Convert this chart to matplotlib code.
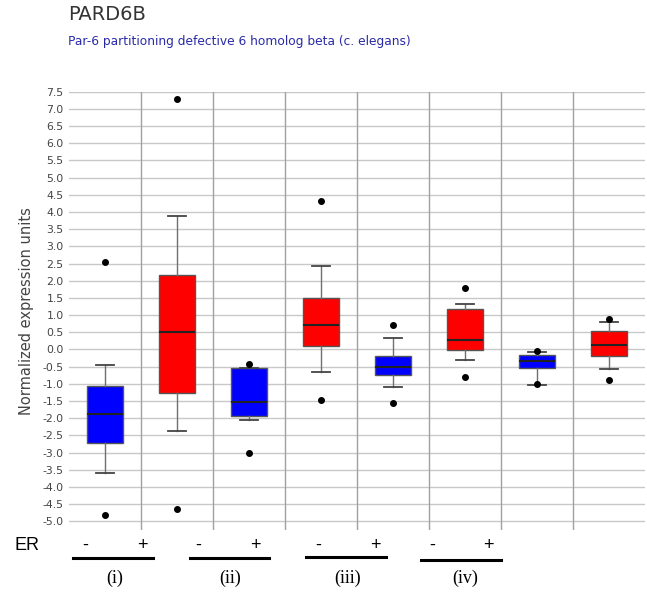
import matplotlib
matplotlib.use("Agg")
import matplotlib.pyplot as plt

# box statistics (ER-, ER+ for each of the four groups)
labels = ["-", "+", "-", "+", "-", "+", "-", "+"]
group_names = ["(i)", "(ii)", "(iii)", "(iv)"]
whisker_lo = [-3.6, -2.38, -2.05, -0.66, -1.10, -0.31, -1.02, -0.58]
q1 = [-2.73, -1.28, -1.94, 0.10, -0.75, -0.02, -0.54, -0.19]
medians = [-1.87, 0.50, -1.54, 0.70, -0.52, 0.29, -0.35, 0.13]
q3 = [-1.07, 2.18, -0.55, 1.51, -0.19, 1.19, -0.17, 0.53]
whisker_hi = [-0.44, 3.88, -0.55, 2.44, 0.32, 1.31, -0.08, 0.81]
outliers = [[2.56, -4.83], [7.30, -4.65], [-0.41, -3.02], [4.33, -1.48],
            [0.71, -1.57], [1.80, -0.81], [-0.05, -1.00], [0.90, -0.90]]
colors = ["#0000ff", "#ff0000"] * 4

stats = []
for i in range(len(labels)):
    stats.append({"whislo": whisker_lo[i], "q1": q1[i], "med": medians[i],
                  "q3": q3[i], "whishi": whisker_hi[i], "fliers": outliers[i]})

fig = plt.figure(figsize=(6.47, 5.96), dpi=100)
ax = fig.add_axes([0.107, 0.111, 0.89, 0.735])

# grid
yt = [x / 2 for x in range(-10, 16)]
for y in yt:
    ax.axhline(y, color="#c8c8c8", lw=1.0, zorder=0)
for x in range(1, 8):
    ax.axvline(x + 0.5, color="#a0a0a0", lw=1.0, zorder=0)

bp = ax.bxp(stats, positions=range(1, 9), widths=0.5, patch_artist=True,
            boxprops=dict(edgecolor="#555555", lw=1.0),
            whiskerprops=dict(color="#707070", lw=1.0),
            capprops=dict(color="#444444", lw=1.3),
            medianprops=dict(color="#222222", lw=1.5),
            flierprops=dict(marker="o", markerfacecolor="black",
                            markeredgecolor="black", markersize=4))
for patch, c in zip(bp["boxes"], colors):
    patch.set_facecolor(c)

ax.set_xlim(0.5, 8.5)
ax.set_ylim(-5.25, 7.5)
ax.set_yticks(yt)
ax.set_yticklabels([f"{y:.1f}" for y in yt], fontsize=7.8, color="#444444")
ax.tick_params(axis="y", length=0, pad=4)
ax.set_xticks([])
for s in ["top", "bottom", "right", "left"]:
    ax.spines[s].set_visible(False)
ax.set_ylabel("Normalized expression units", fontsize=10.5, color="#444444", labelpad=6)

fig.text(0.105, 1 - 15 / 596, "PARD6B", fontsize=14, color="#333333", va="center")
fig.text(0.105, 1 - 41 / 596, "Par-6 partitioning defective 6 homolog beta (c. elegans)",
         fontsize=8.8, color="#2a2aa8", va="center")

# ER annotation beneath the plot
W, H = 647, 596
fig.text(15 / W, 1 - 545 / H, "ER", fontsize=13, va="center", family="Liberation Sans")
sign_x = [85, 142, 198, 255, 318, 375, 432, 488]
for x, s in zip(sign_x, labels):
    fig.text(x / W, 1 - 545 / H, s, fontsize=13, ha="center", va="center",
             family="Liberation Sans")
bar_x = [(73, 153), (190, 269), (306, 386), (421, 501)]
bar_y = [558, 558, 557, 560]
name_x = [115, 230, 348, 465]
for (x0, x1), y, nx, name in zip(bar_x, bar_y, name_x, group_names):
    fig.add_artist(plt.Line2D([x0 / W, x1 / W], [1 - y / H, 1 - y / H],
                              color="black", lw=2.2, transform=fig.transFigure))
    fig.text(nx / W, 1 - 578 / H, name, fontsize=13, ha="center", va="center",
             family="Liberation Serif")

fig.savefig("out.png", dpi=100)
